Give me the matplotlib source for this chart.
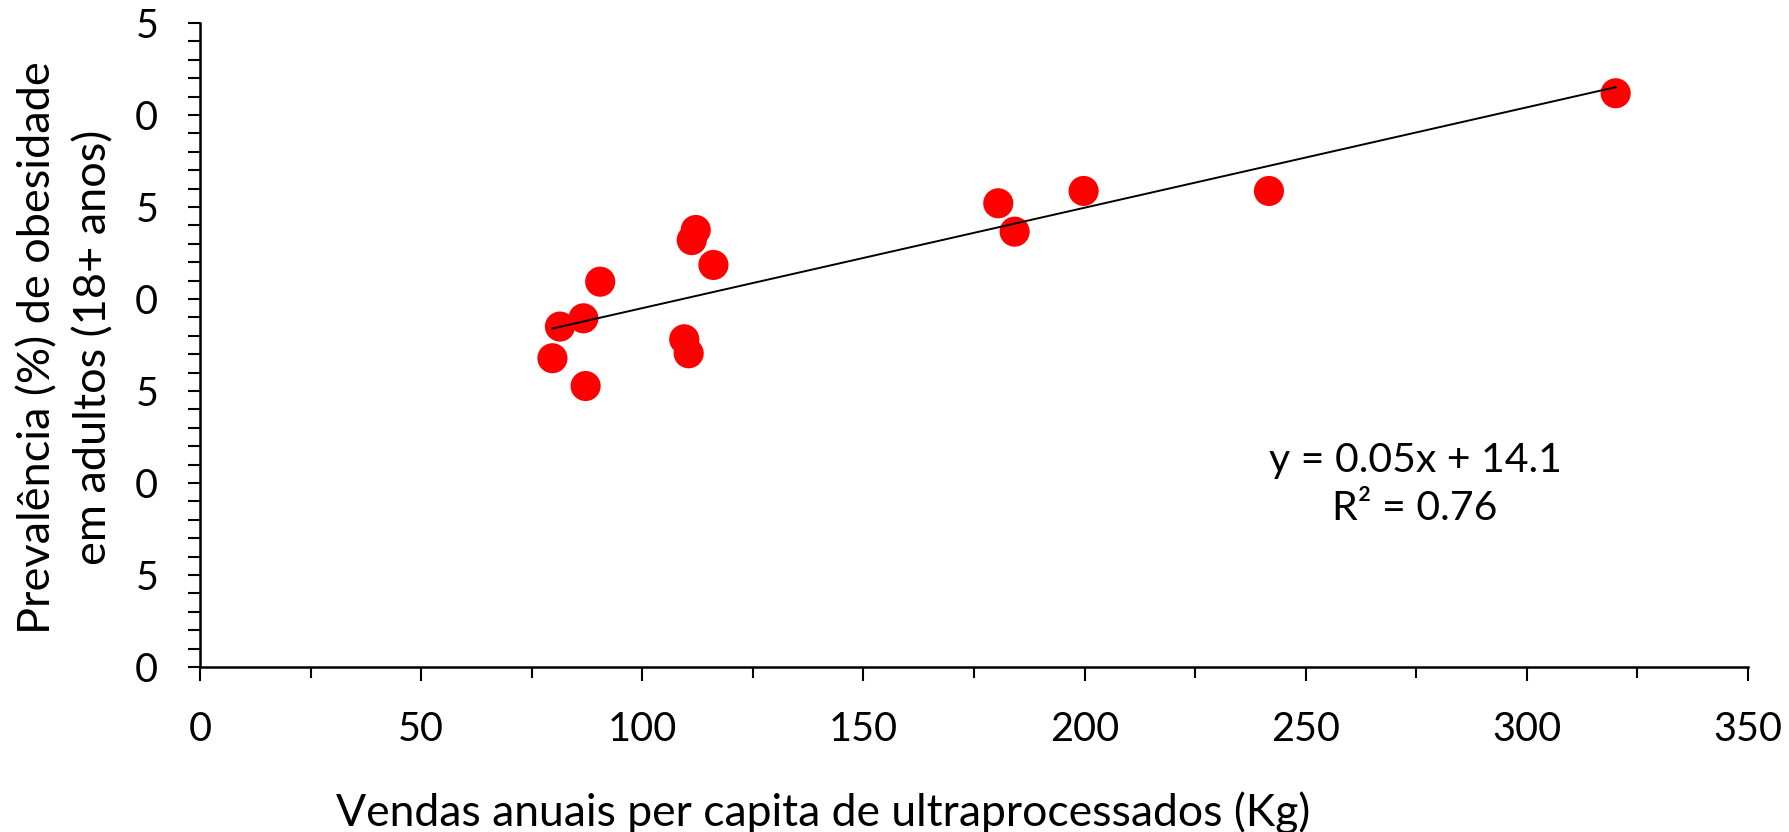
import numpy as np
import matplotlib
matplotlib.use("Agg")
import matplotlib.pyplot as plt
from matplotlib.ticker import MultipleLocator

plt.rcParams['font.family'] = ['Lato', 'DejaVu Sans']

# vendas anuais per capita (kg) e prevalencia de obesidade (%)
vendas = [112.1, 111.2, 116.1, 90.5, 86.7, 81.4, 79.7, 87.2, 109.5, 110.5,
          180.5, 184.2, 199.8, 241.7, 320.1]
obesidade = [23.75, 23.2, 21.85, 20.94, 18.95, 18.5, 16.78, 15.27, 17.81, 17.05,
             25.2, 23.66, 25.87, 25.87, 31.18]

x_ticks = [0, 50, 100, 150, 200, 250, 300, 350]
y_ticks = [0, 5, 10, 15, 20, 25, 30, 35]
y_tick_labels = ["0", "5", "0", "5", "0", "5", "0", "5"]

eq_text = "y = 0.05x + 14.1\nR² = 0.76"

fig = plt.figure(figsize=(17.9, 8.32), dpi=100)
ax = fig.add_axes([0.1117, 0.1983, 0.9765 - 0.1117, 0.9724 - 0.1983])

ax.scatter(vendas, obesidade, s=470, color='#ff0000', edgecolors='none', zorder=3)

# linha de tendencia
a, b = np.polyfit(vendas, obesidade, 1)
xs = np.array([min(vendas), max(vendas)])
ax.plot(xs, a * xs + b, color='black', lw=1.4, zorder=4)

ax.set_xlim(0, 350)
ax.set_ylim(0, 35)
ax.set_xticks(x_ticks)
ax.set_yticks(y_ticks)
ax.set_yticklabels(y_tick_labels)
ax.xaxis.set_minor_locator(MultipleLocator(25))
ax.yaxis.set_minor_locator(MultipleLocator(1))

for s in ['top', 'right']:
    ax.spines[s].set_visible(False)
for s in ['left', 'bottom']:
    ax.spines[s].set_linewidth(1.8)

ax.tick_params(axis='x', which='major', direction='out', length=10, width=1.5,
               labelsize=28.5, pad=22)
ax.tick_params(axis='x', which='minor', direction='out', length=8, width=1.5)
ax.tick_params(axis='y', which='both', direction='out', length=9, width=1.5)
ax.tick_params(axis='y', which='major', labelsize=28.5, pad=21)

ax.text(0.785, 0.283, eq_text, transform=ax.transAxes, ha='center', va='center',
        fontsize=29.5, linespacing=1.37)

fig.text(0.037, 0.582, "Prevalência (%) de obesidade\nem adultos (18+ anos)",
         rotation=90, ha='center', va='center', fontsize=32.5, linespacing=1.45)
fig.text(0.46, 0.023, "Vendas anuais per capita de ultraprocessados (Kg)",
         ha='center', va='center', fontsize=32)

fig.savefig("out.png", dpi=100)
